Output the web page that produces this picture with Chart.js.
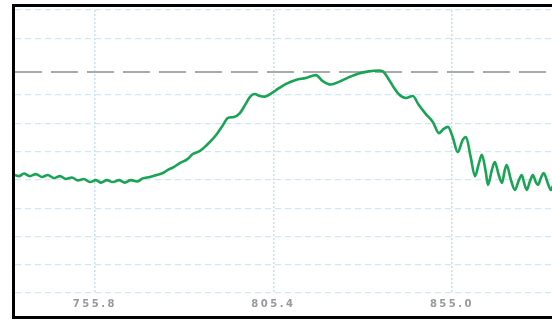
<!DOCTYPE html>
<html>
<head>
<meta charset="utf-8">
<script src="https://cdn.jsdelivr.net/npm/chart.js@4/dist/chart.umd.min.js"></script>
<style>
  html, body { margin: 0; padding: 0; background: #fff; overflow: hidden; width: 552px; height: 320px; }
  .edge { position: absolute; background: #000; }
  #edgeTop { left: 12px; top: 4px; width: 540px; height: 3px; }
  #edgeLeft { left: 12px; top: 4px; width: 3px; height: 315px; }
  #edgeBottom { left: 12px; top: 316px; width: 540px; height: 3px; }
  #chart { position: absolute; left: 15px; top: 7px; }
</style>
</head>
<body>
<canvas id="chart" width="537" height="309"></canvas>
<div class="edge" id="edgeTop"></div>
<div class="edge" id="edgeLeft"></div>
<div class="edge" id="edgeBottom"></div>
<script>
// Spectrum samples (wavelength, signal level)
const wavelengths = [
  733.6, 734.7, 736.1, 737.7, 739.4, 741.1, 742.7, 744.4, 746.1, 747.7,
  749.4, 751.1, 752.7, 754.4, 756.1, 757.5, 759.1, 760.8, 762.5, 764.1,
  765.8, 767.5, 769.1, 771.1, 773.0, 774.7, 776.1, 777.7, 779.4, 781.4,
  783.0, 785.0, 786.9, 788.3, 789.7, 791.4, 792.7, 794.4, 796.1, 797.5,
  798.9, 800.2, 801.6, 803.0, 805.0, 806.6, 808.9, 811.6, 814.4, 817.2,
  819.1, 821.4, 823.6, 826.4, 829.1, 831.9, 834.7, 835.8, 837.2, 838.6,
  840.2, 842.2, 844.1, 845.8, 847.7, 849.7, 851.4, 852.7, 853.9, 855.2,
  856.6, 858.0, 858.9, 860.2, 861.4, 862.5, 863.3, 864.4, 865.0, 866.1,
  866.9, 868.0, 868.9, 869.7, 870.2, 871.4, 872.5, 873.6, 874.4, 875.2,
  875.8, 876.6, 877.5, 878.3, 878.9, 879.7, 880.5, 881.6, 882.5, 883.0
];
const intensity = [
  41.7, 41.3, 42.2, 41.3, 42.0, 41.0, 41.7, 40.6, 41.3, 40.3,
  40.8, 39.8, 40.3, 39.2, 39.9, 39.0, 39.9, 39.2, 39.9, 39.0,
  39.9, 39.4, 40.5, 41.0, 41.7, 42.4, 43.5, 44.5, 45.9, 47.2,
  49.1, 50.2, 52.3, 54.1, 56.2, 59.4, 61.8, 62.2, 63.6, 66.4,
  69.3, 70.3, 69.6, 69.4, 70.7, 72.1, 73.9, 75.3, 76.0, 77.0,
  74.9, 73.7, 74.6, 76.3, 77.6, 78.3, 78.6, 78.3, 76.0, 73.1,
  70.3, 68.9, 69.6, 66.4, 63.3, 60.4, 56.5, 58.0, 58.7, 55.1,
  49.8, 54.1, 55.1, 48.1, 41.3, 45.9, 48.8, 42.8, 38.2, 43.5,
  46.3, 41.7, 38.9, 43.5, 45.2, 39.9, 36.4, 39.9, 41.7, 38.2,
  36.4, 39.2, 41.7, 39.2, 38.2, 40.6, 42.4, 38.9, 36.4, 37.8
];
const xTicks = [755.8, 805.4, 855.0];
const thresholdLevel = 78.1;
const hiddenGridLevel = 80;

const xMin = 733.6, xMax = 882.8;

const signalPoints = wavelengths.map((w, i) => ({ x: w, y: intensity[i] }));
const thresholdPoints = [{ x: xMin, y: thresholdLevel }, { x: xMax, y: thresholdLevel }];

// Wider spacing for the axis label digits
const labelSpacing = {
  id: 'labelSpacing',
  beforeDraw(chart) { chart.ctx.letterSpacing = '2.5px'; }
};

new Chart(document.getElementById('chart'), {
  type: 'line',
  data: {
    datasets: [
      { data: signalPoints, borderColor: '#18a454', borderWidth: 2.6, pointRadius: 0, cubicInterpolationMode: 'monotone', fill: false },
      { data: thresholdPoints, borderColor: '#aaaaaa', borderWidth: 2, borderDash: [27, 9], pointRadius: 0, fill: false }
    ]
  },
  options: {
    responsive: false,
    animation: false,
    devicePixelRatio: 1,
    layout: { padding: { top: 3, bottom: 3, left: 0, right: 0 } },
    plugins: { legend: { display: false }, tooltip: { enabled: false } },
    scales: {
      x: {
        type: 'linear', min: xMin, max: xMax,
        afterBuildTicks(scale) { scale.ticks = xTicks.map(v => ({ value: v })); },
        afterFit(scale) { scale.height = 20; },
        border: { display: false, dash: [2, 2] },
        grid: { color: '#c8e0ee', lineWidth: 1.5, drawTicks: false, borderDash: [2, 2] },
        ticks: { padding: 5, color: '#999999', font: { family: 'DejaVu Sans', size: 10, weight: 'bold' },
                 callback: v => Number(v).toFixed(1), maxRotation: 0, autoSkip: false }
      },
      y: {
        min: 0, max: 100,
        border: { display: false, dash: [6, 4] },
        grid: { color: ctx => (ctx.tick && ctx.tick.value === hiddenGridLevel) ? 'rgba(0,0,0,0)' : '#d0e7f4',
                lineWidth: 1.2, drawTicks: false, borderDash: [6, 4] },
        ticks: { display: false, stepSize: 10 }
      }
    }
  },
  plugins: [labelSpacing]
});
</script>
</body>
</html>
